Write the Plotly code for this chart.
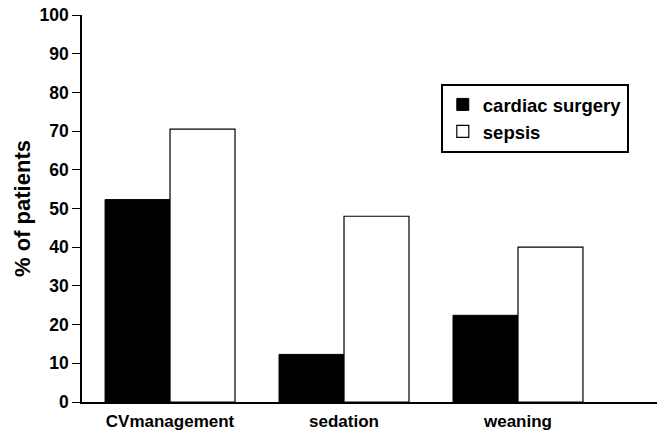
import plotly.graph_objects as go

categories = ["CVmanagement", "sedation", "weaning"]
cardiac_surgery = [52.3, 12.3, 22.4]
sepsis = [70.5, 48.0, 40.0]
y_ticks = [0, 10, 20, 30, 40, 50, 60, 70, 80, 90, 100]

FONT = "Liberation Sans, Arial, Helvetica, sans-serif"

fig = go.Figure()
fig.add_trace(go.Bar(x=categories, y=cardiac_surgery, name="cardiac surgery",
                     marker=dict(color="black", line=dict(color="black", width=1))))
fig.add_trace(go.Bar(x=categories, y=sepsis, name="sepsis",
                     marker=dict(color="white", line=dict(color="black", width=1.2))))

fig.update_layout(
    width=659, height=432,
    margin=dict(l=82, r=2, t=15, b=30, autoexpand=False),
    paper_bgcolor="white", plot_bgcolor="white",
    barmode="group", bargap=0.253, bargroupgap=0,
    font=dict(family=FONT, color="black"),
    showlegend=True,
    legend=dict(x=0.624, y=0.822, xanchor="left", yanchor="top",
                bordercolor="black", borderwidth=2, bgcolor="white",
                font=dict(size=18.5, family=FONT, color="black", weight="bold"),
                traceorder="normal", tracegroupgap=0),
)
fig.update_xaxes(range=[-0.506, 2.799], showline=True, linecolor="black", linewidth=1.5,
                 ticks="", tickfont=dict(size=17, family=FONT, weight="bold"),
                 ticklabelstandoff=3,
                 showgrid=False, zeroline=False, automargin=False)
fig.update_yaxes(range=[0, 100], tickvals=y_ticks, showline=True, linecolor="black",
                 linewidth=1.5, ticks="outside", ticklen=8, tickwidth=1.2, tickcolor="black",
                 tickfont=dict(size=17.5, family=FONT, weight="bold"),
                 showgrid=False, zeroline=False, automargin=False,
                 title=dict(text="% of patients", font=dict(size=22, family=FONT, weight="bold"),
                            standoff=3))

fig.write_html("out.html", config={"displayModeBar": False},
               post_script="document.body.style.margin='0';document.body.style.padding='0';")
